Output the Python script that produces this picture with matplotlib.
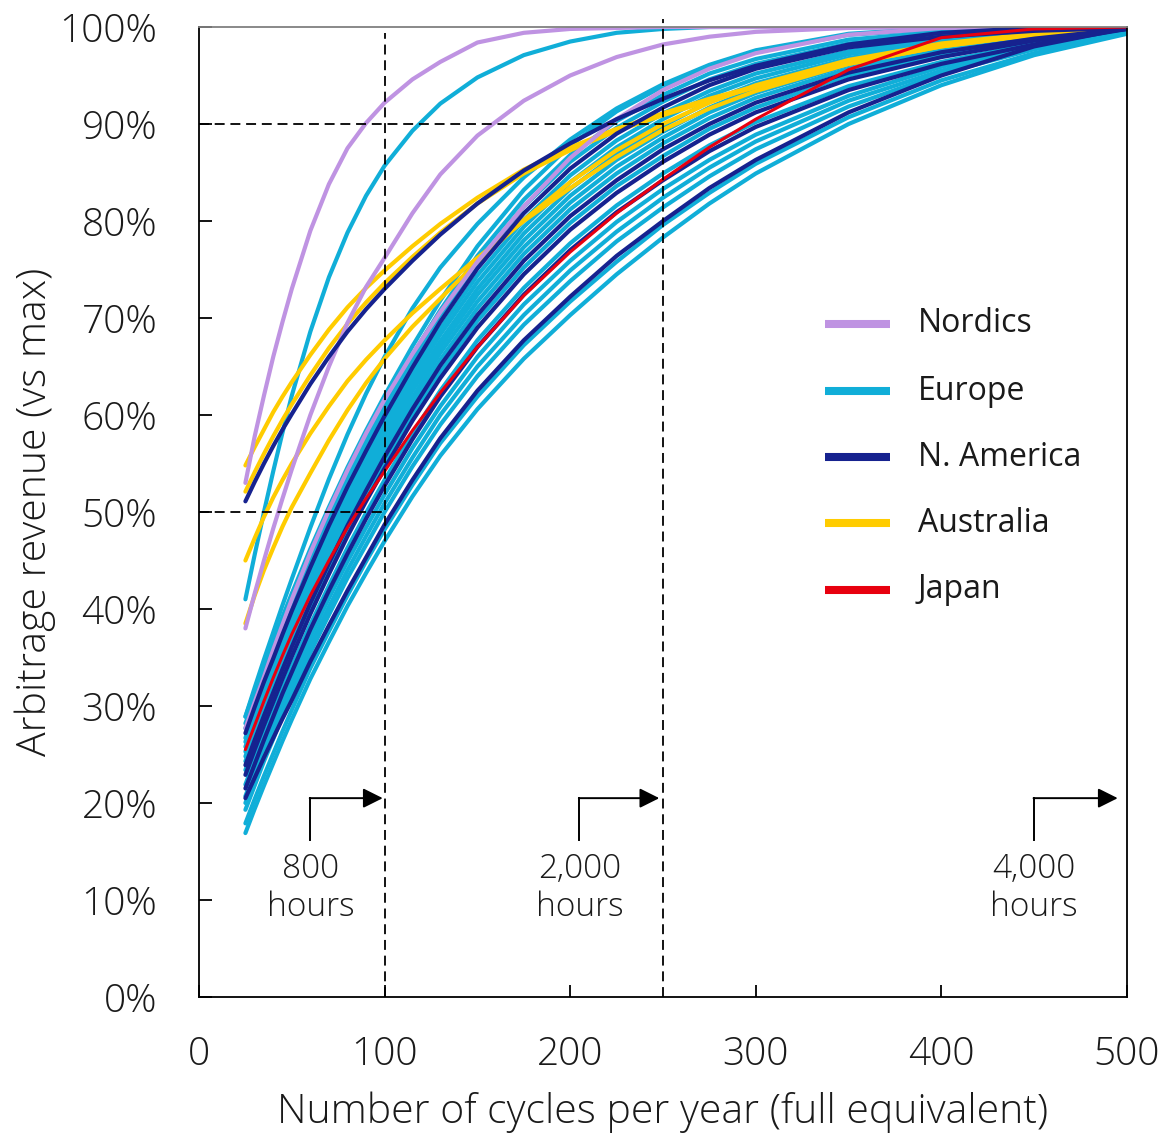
import matplotlib
matplotlib.use("Agg")
import matplotlib.pyplot as plt

plt.rcParams['font.family'] = ['Open Sans', 'DejaVu Sans']

# ---------------- data ----------------
cycles = [25, 30, 35, 40, 45, 50, 60, 70, 80, 90, 100, 115, 130, 150,
          175, 200, 225, 250, 275, 300, 350, 400, 450, 500]

# Nordics
nord_1 = [53.0, 57.8, 62.0, 66.0, 69.6, 73.0, 79.0, 83.8, 87.5, 90.1, 92.2, 94.6, 96.4, 98.4,
          99.4, 99.8, 99.9, 100, 100, 100, 100, 100, 100, 100]
nord_2 = [38.0, 41.6, 45.0, 48.3, 51.4, 54.4, 60.0, 65.0, 69.5, 73.2, 76.2, 80.8, 84.8, 88.8,
          92.4, 95.0, 96.9, 98.2, 99.0, 99.5, 99.9, 100, 100, 100]
nord_3 = [27.7, 30.4, 33.0, 35.8, 38.4, 41.0, 45.8, 50.2, 54.3, 58.1, 61.6, 66.3, 70.6, 75.8,
          81.5, 86.5, 90.5, 93.5, 95.7, 97.3, 99.2, 99.9, 100, 100]

# Europe
eur_fast = [41.0, 45.6, 50.0, 54.2, 58.2, 62.0, 68.6, 74.2, 78.8, 82.6, 85.7, 89.3, 92.1, 94.8,
            97.1, 98.5, 99.4, 99.8, 100, 100, 100, 100, 100, 100]
eur_up = [28.9, 31.9, 34.8, 37.6, 40.4, 43.1, 48.4, 53.4, 58.0, 62.2, 66.0, 71.0, 75.2, 79.7,
          84.5, 88.4, 91.6, 94.1, 96.1, 97.6, 99.3, 99.9, 100, 100]
eur_01 = [28.9, 31.6, 34.2, 36.7, 39.2, 41.6, 46.2, 50.5, 54.6, 58.4, 62.0, 67.1, 71.8, 77.4,
          83.2, 87.8, 91.3, 93.9, 96.0, 97.5, 99.2, 99.8, 100, 100]
eur_02 = [28.2, 30.9, 33.5, 35.9, 38.4, 40.8, 45.4, 49.7, 53.7, 57.5, 61.1, 66.2, 70.8, 76.4,
          82.2, 86.8, 90.3, 93.0, 95.2, 96.7, 98.7, 99.5, 99.8, 100]
eur_03 = [27.7, 30.4, 33.0, 35.4, 37.9, 40.3, 44.9, 49.1, 53.2, 56.9, 60.5, 65.6, 70.2, 75.7,
          81.5, 86.1, 89.6, 92.3, 94.6, 96.2, 98.3, 99.2, 99.7, 99.9]
eur_04 = [26.7, 29.4, 32.0, 34.4, 36.9, 39.3, 43.8, 48.0, 52.0, 55.8, 59.3, 64.3, 68.9, 74.4,
          80.1, 84.7, 88.3, 91.1, 93.4, 95.2, 97.5, 98.8, 99.5, 99.9]
eur_05 = [26.3, 28.9, 31.5, 33.9, 36.4, 38.7, 43.3, 47.4, 51.5, 55.2, 58.7, 63.7, 68.3, 73.7,
          79.4, 84.0, 87.6, 90.5, 92.9, 94.7, 97.2, 98.5, 99.4, 99.9]
eur_06 = [25.8, 28.4, 31.0, 33.4, 35.9, 38.2, 42.7, 46.9, 50.9, 54.6, 58.1, 63.1, 67.6, 73.0,
          78.7, 83.3, 86.9, 89.8, 92.3, 94.2, 96.8, 98.3, 99.3, 99.8]
eur_07 = [25.3, 27.9, 30.5, 32.9, 35.4, 37.7, 42.2, 46.3, 50.3, 54.0, 57.5, 62.5, 67.0, 72.4,
          78.0, 82.6, 86.3, 89.2, 91.7, 93.7, 96.4, 98.1, 99.1, 99.8]
eur_08 = [24.8, 27.5, 30.0, 32.4, 34.9, 37.2, 41.6, 45.8, 49.7, 53.4, 56.9, 61.8, 66.4, 71.7,
          77.3, 81.9, 85.6, 88.6, 91.2, 93.2, 96.1, 97.8, 99.0, 99.8]
eur_09 = [24.3, 27.0, 29.5, 31.9, 34.3, 36.7, 41.1, 45.2, 49.2, 52.8, 56.3, 61.2, 65.7, 71.0,
          76.6, 81.2, 84.9, 88.0, 90.6, 92.7, 95.7, 97.6, 98.9, 99.7]
eur_10 = [23.4, 26.0, 28.5, 30.9, 33.3, 35.6, 40.0, 44.1, 48.0, 51.6, 55.1, 60.0, 64.4, 69.7,
          75.2, 79.8, 83.6, 86.7, 89.5, 91.7, 95.0, 97.1, 98.7, 99.7]
eur_11 = [21.9, 24.5, 27.0, 29.4, 31.8, 34.1, 38.4, 42.4, 46.3, 49.9, 53.3, 58.1, 62.5, 67.7,
          73.1, 77.7, 81.6, 84.9, 87.8, 90.2, 93.9, 96.4, 98.3, 99.6]
eur_12 = [20.7, 23.3, 25.8, 28.1, 30.5, 32.8, 37.1, 41.1, 44.9, 48.4, 51.8, 56.6, 60.9, 66.0,
          71.4, 75.9, 79.9, 83.3, 86.3, 88.9, 92.9, 95.9, 98.0, 99.5]
eur_13 = [20.0, 22.6, 25.0, 27.4, 29.7, 32.0, 36.3, 40.2, 44.0, 47.5, 50.9, 55.6, 60.0, 65.0,
          70.3, 74.9, 78.9, 82.4, 85.5, 88.2, 92.4, 95.5, 97.9, 99.5]
eur_14 = [19.3, 21.8, 24.3, 26.6, 29.0, 31.2, 35.5, 39.4, 43.2, 46.6, 50.0, 54.7, 59.0, 64.0,
          69.3, 73.8, 77.9, 81.4, 84.6, 87.4, 91.8, 95.2, 97.7, 99.4]
eur_15 = [17.9, 20.4, 22.8, 25.1, 27.4, 29.6, 33.9, 37.7, 41.4, 44.9, 48.2, 52.8, 57.1, 61.9,
          67.2, 71.7, 75.8, 79.6, 82.9, 85.9, 90.7, 94.5, 97.3, 99.4]
eur_16 = [16.9, 19.4, 21.8, 24.1, 26.4, 28.6, 32.8, 36.6, 40.3, 43.7, 47.0, 51.6, 55.8, 60.6,
          65.8, 70.3, 74.5, 78.3, 81.8, 84.9, 90.0, 94.0, 97.1, 99.3]

# N. America
nam_1 = [51.1, 53.1, 55.0, 56.8, 58.5, 60.1, 63.2, 66.0, 68.6, 70.9, 73.0, 75.9, 78.6, 81.8,
         85.2, 88.0, 90.5, 92.6, 94.5, 96.0, 98.2, 99.4, 99.9, 100]
nam_2 = [27.2, 29.9, 32.5, 34.9, 37.4, 39.8, 44.3, 48.6, 52.6, 56.3, 59.9, 64.9, 69.6, 75.1,
         80.8, 85.4, 89.0, 91.7, 94.0, 95.7, 97.9, 99.0, 99.6, 99.9]
nam_3 = [23.9, 26.5, 29.0, 31.4, 33.8, 36.1, 40.6, 44.7, 48.6, 52.2, 55.7, 60.6, 65.1, 70.3,
         75.9, 80.5, 84.2, 87.4, 90.0, 92.2, 95.3, 97.4, 98.8, 99.8]
nam_4 = [22.9, 25.5, 28.0, 30.4, 32.8, 35.1, 39.5, 43.6, 47.5, 51.1, 54.5, 59.4, 63.8, 69.0,
         74.5, 79.1, 82.9, 86.1, 88.9, 91.2, 94.6, 96.9, 98.6, 99.8]
nam_5 = [21.5, 24.0, 26.5, 28.9, 31.3, 33.5, 37.9, 41.9, 45.7, 49.3, 52.7, 57.5, 61.9, 67.0,
         72.4, 77.0, 80.9, 84.2, 87.2, 89.7, 93.5, 96.2, 98.2, 99.8]
nam_6 = [20.5, 22.6, 24.7, 26.7, 28.7, 30.6, 34.6, 38.3, 41.9, 45.3, 48.7, 53.3, 57.6, 62.5,
         67.7, 72.2, 76.4, 80.0, 83.4, 86.3, 91.2, 95.0, 98.0, 99.9]

# Australia
aus_1 = [54.8, 56.7, 58.5, 60.3, 61.9, 63.4, 66.2, 68.8, 71.1, 73.1, 74.9, 77.4, 79.7, 82.4,
         85.3, 87.6, 89.5, 91.1, 92.6, 93.9, 96.3, 98.1, 99.3, 100]
aus_2 = [52.1, 54.1, 56.0, 57.8, 59.5, 61.1, 64.1, 66.9, 69.4, 71.6, 73.6, 76.3, 78.8, 81.8,
         84.9, 87.3, 89.3, 90.9, 92.4, 93.8, 96.2, 98.0, 99.2, 100]
aus_3 = [45.0, 47.3, 49.5, 51.5, 53.3, 55.0, 58.1, 60.9, 63.5, 65.7, 67.7, 70.5, 73.0, 76.2,
         80.0, 83.4, 86.6, 89.4, 91.6, 93.4, 96.2, 98.0, 99.2, 100]
aus_4 = [38.5, 41.4, 44.0, 46.3, 48.5, 50.5, 54.0, 57.4, 60.5, 63.3, 65.8, 69.1, 72.0, 75.8,
         80.1, 84.0, 87.3, 90.0, 92.2, 94.0, 96.6, 98.3, 99.3, 100]

# Japan
jpn_1 = [25.5, 28.0, 30.5, 32.9, 35.2, 37.4, 41.4, 45.0, 48.4, 51.4, 54.2, 58.4, 62.3, 67.0,
         72.3, 76.8, 80.8, 84.3, 87.6, 90.5, 95.6, 98.9, 99.8, 100]

region_names = ['Nordics', 'Europe', 'N. America', 'Australia', 'Japan']
region_colors = ['#BF93E2', '#10AED8', '#16228F', '#FFCC00', '#E8000F']

nordics = [nord_1, nord_2, nord_3]
europe = [eur_fast, eur_up, eur_01, eur_02, eur_03, eur_04, eur_05, eur_06, eur_07,
          eur_08, eur_09, eur_10, eur_11, eur_12, eur_13, eur_14, eur_15, eur_16]
namerica = [nam_1, nam_2, nam_3, nam_4, nam_5, nam_6]
australia = [aus_1, aus_2, aus_3, aus_4]
japan = [jpn_1]

x_ticks = [0, 100, 200, 300, 400, 500]
y_ticks = [0, 10, 20, 30, 40, 50, 60, 70, 80, 90, 100]

hour_labels = ['800\nhours', '2,000\nhours', '4,000\nhours']
hour_arrow_start = [60, 205, 450]
hour_arrow_end = [99, 248, 495]

# ---------------- figure ----------------
W, H = 1161, 1136
fig = plt.figure(figsize=(W / 100, H / 100), dpi=100)
ax = fig.add_axes([199 / W, 1 - 997 / H, 928 / W, 970 / H])
ax.set_xlim(0, 500)
ax.set_ylim(0, 100)

text_color = '#1a1a1a'
LW = 3.0

for curves, col, lw, z in [(europe, region_colors[1], LW, 2),
                           (australia, region_colors[3], LW, 3),
                           (nordics, region_colors[0], LW, 4),
                           (namerica, region_colors[2], LW, 5),
                           (japan, region_colors[4], 2.2, 6)]:
    for c in curves:
        ax.plot(cycles, c, color=col, lw=lw, solid_capstyle='round',
                solid_joinstyle='round', zorder=z)

# reference dashed lines
dash = dict(color='black', lw=1.3, linestyle=(0, (5.5, 3.2)), zorder=7)
ax.plot([100, 100], [0, 99.4], **dash)
ax.plot([250, 250], [0, 100.8], clip_on=False, **dash)
ax.plot([0, 250], [90, 90], **dash)
ax.plot([0, 100], [50, 50], **dash)

# hour arrows
for xs, xe, lab in zip(hour_arrow_start, hour_arrow_end, hour_labels):
    ax.plot([xs, xs], [16.2, 20.5], color='black', lw=1.4, zorder=7)
    ax.annotate('', xy=(xe, 20.5), xytext=(xs - 0.35, 20.5),
                arrowprops=dict(arrowstyle='-|>', mutation_scale=30, lw=1.4,
                                color='black', shrinkA=0, shrinkB=0), zorder=7)
    ax.text(xs, 11.2, lab, ha='center', va='center', fontsize=24,
            color=text_color, linespacing=1.2, fontweight='light')

# axes styling
for s in ax.spines.values():
    s.set_linewidth(1.3)
    s.set_color('black')
    s.set_zorder(8)
ax.spines['top'].set_color('#808080')

ax.set_xticks(x_ticks)
ax.set_yticks(y_ticks)
ax.set_yticklabels([f'{v}%' for v in y_ticks])
ax.tick_params(axis='both', direction='in', length=9, width=1.3,
               labelsize=28, labelcolor=text_color, colors='black')
ax.tick_params(axis='x', pad=28)
ax.tick_params(axis='y', pad=30)
for lbl in ax.get_xticklabels() + ax.get_yticklabels():
    lbl.set_fontweight('light')

ax.set_xlabel('Number of cycles per year (full equivalent)', fontsize=29.5,
              color=text_color, fontweight='light')
ax.set_ylabel('Arbitrage revenue (vs max)', fontsize=29.5, color=text_color,
              fontweight='light')
ax.xaxis.set_label_coords(0.5, (997 - 1112) / 970)
ax.xaxis.label.set_va('center')
ax.yaxis.set_label_coords((35 - 199) / 928, 0.5)
ax.yaxis.label.set_va('center')

# legend (manual)
leg_y = [324, 391, 457, 523, 590]
for name, col, py in zip(region_names, region_colors, leg_y):
    yy = (997 - py) / 970
    ax.plot([(825 - 199) / 928, (890 - 199) / 928], [yy, yy], transform=ax.transAxes,
            color=col, lw=5.8, solid_capstyle='butt', zorder=9)
    ax.text((918 - 199) / 928, yy, name, transform=ax.transAxes, ha='left',
            va='center', fontsize=23, color=text_color)

fig.savefig('out.png', dpi=100)
